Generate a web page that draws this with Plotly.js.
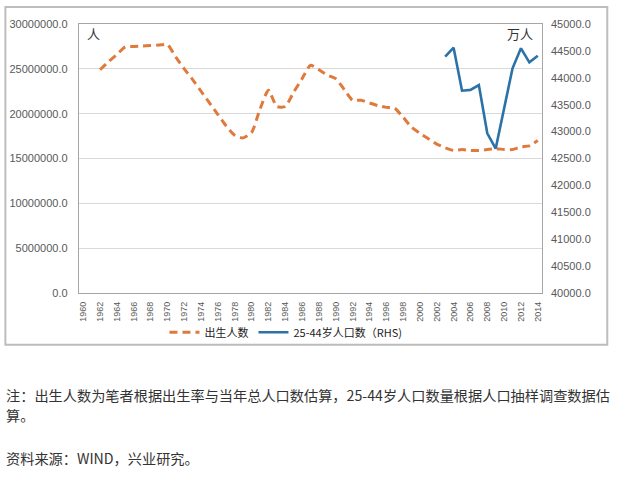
<!DOCTYPE html>
<html>
<head>
<meta charset="utf-8">
<script src="https://cdn.plot.ly/plotly-3.0.1.min.js"></script>
<style>
html,body{margin:0;padding:0;background:#fff;}
#chart{width:620px;height:489px;}
</style>
</head>
<body>
<div id="chart"></div>
<script>
// Birth count (persons), 1962-2014
const birthYears = [1962,1963,1964,1965,1966,1967,1968,1969,1970,1971,1972,1973,1974,1975,1976,1977,1978,1979,1980,1981,1982,1983,1984,1985,1986,1987,1988,1989,1990,1991,1992,1993,1994,1995,1996,1997,1998,1999,2000,2001,2002,2003,2004,2005,2006,2007,2008,2009,2010,2011,2012,2013,2014];
const births = [24900000,25800000,26600000,27450000,27500000,27550000,27600000,27650000,27700000,26300000,25000000,23800000,22500000,21200000,19900000,18600000,17600000,17300000,17900000,20500000,22600000,20800000,20800000,22400000,23900000,25400000,24900000,24300000,23900000,22700000,21500000,21500000,21200000,20900000,20700000,20600000,19600000,18500000,17800000,17200000,16600000,16200000,15900000,16000000,15900000,15900000,16000000,16100000,16000000,16000000,16300000,16400000,17000000];
// Population aged 25-44 (10k persons), 2003-2014
const popYears = [2003,2004,2005,2006,2007,2008,2009,2010,2011,2012,2013,2014];
const pop2544 = [44392,44560,43760,43775,43866,42968,42685,43450,44177,44548,44288,44410];
const seriesNames = ['出生人数','25-44岁人口数（RHS)'];
const noteLine1 = '注：出生人数为笔者根据出生率与当年总人口数估算，25-44岁人口数量根据人口抽样调查数据估';
const noteLine2 = '算。';
const sourceLine = '资料来源：WIND，兴业研究。';

const tickFont = {family:'Liberation Sans, Arial, sans-serif', size:11, color:'#595959'};
const cjk = 'Noto Sans CJK SC, sans-serif';

const traces = [
  {x:birthYears, y:births, name:seriesNames[0], type:'scatter', mode:'lines',
   line:{color:'#E07A3C', width:3, dash:'8px,5px', shape:'spline', smoothing:0.6}, yaxis:'y'},
  {x:popYears, y:pop2544, name:seriesNames[1], type:'scatter', mode:'lines',
   line:{color:'#2A72A8', width:2.6}, yaxis:'y2'}
];

const layout = {
  width:620, height:489,
  margin:{l:79, r:78, t:24, b:196},
  paper_bgcolor:'#fff', plot_bgcolor:'#fff',
  showlegend:true,
  legend:{orientation:'h', x:0.447, xanchor:'center', y:-0.146, yanchor:'middle',
    font:{family:cjk, size:11, color:'#222'}, bgcolor:'rgba(0,0,0,0)'},
  xaxis:{type:'linear', range:[1959.5,2014.5], tick0:1960, dtick:2, tickangle:-90,
    tickfont:{family:'Liberation Sans, Arial, sans-serif', size:9, color:'#595959'},
    showgrid:false, zeroline:false, showline:true, linecolor:'#A6A6A6', linewidth:1.2, mirror:true,
    ticks:'', ticklabelstandoff:4},
  yaxis:{range:[0,30000000], dtick:5000000, tickformat:'.1f', tickfont:tickFont,
    showgrid:true, gridcolor:'#D9D9D9', gridwidth:1.3, zeroline:false,
    showline:true, linecolor:'#A6A6A6', linewidth:1.2, mirror:true, ticks:'', ticklabelstandoff:8},
  yaxis2:{range:[40000,45000], dtick:500, tickformat:'.1f', tickfont:tickFont,
    overlaying:'y', side:'right', showgrid:false, zeroline:false, showline:false, ticks:'', ticklabelstandoff:8},
  shapes:[
    {type:'rect', xref:'paper', yref:'paper', x0:-0.159, x1:1.141, y0:-0.192, y1:1.063,
     line:{color:'#BDBDBD', width:2}, fillcolor:'rgba(0,0,0,0)', layer:'above'}
  ],
  annotations:[
    {xref:'paper', yref:'paper', x:0.012, y:0.965, xanchor:'left', yanchor:'middle', showarrow:false,
     text:'人', font:{family:cjk, size:13, color:'#333'}},
    {xref:'paper', yref:'paper', x:0.985, y:0.963, xanchor:'right', yanchor:'middle', showarrow:false,
     text:'万人', font:{family:cjk, size:13, color:'#333'}},
    {xref:'paper', yref:'paper', x:-0.162, y:-0.381, xanchor:'left', yanchor:'middle', showarrow:false,
     text:noteLine1, font:{family:cjk, size:14.2, color:'#333'}},
    {xref:'paper', yref:'paper', x:-0.162, y:-0.455, xanchor:'left', yanchor:'middle', showarrow:false,
     text:noteLine2, font:{family:cjk, size:14.2, color:'#333'}},
    {xref:'paper', yref:'paper', x:-0.162, y:-0.612, xanchor:'left', yanchor:'middle', showarrow:false,
     text:sourceLine, font:{family:cjk, size:14.2, color:'#333'}}
  ]
};

Plotly.newPlot('chart', traces, layout, {displayModeBar:false, staticPlot:true});
</script>
</body>
</html>
